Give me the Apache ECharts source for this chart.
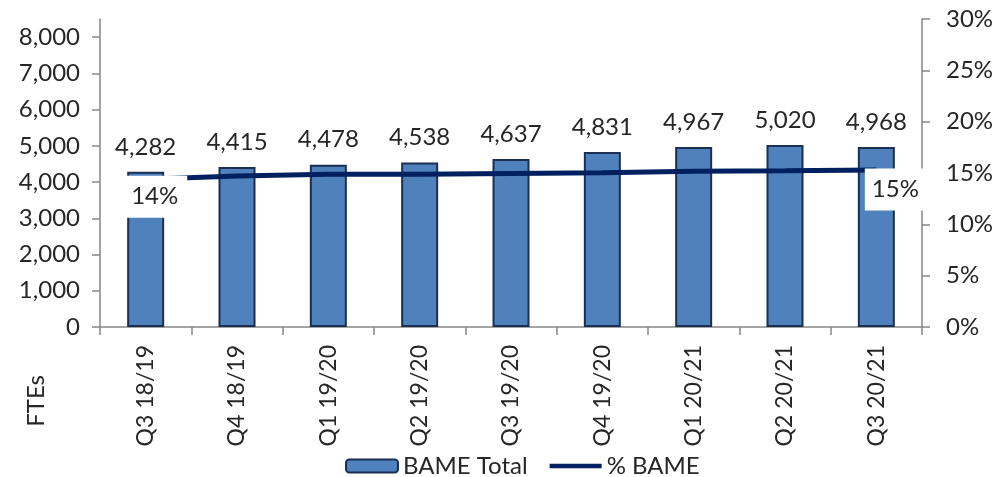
<!DOCTYPE html>
<html>
<head>
<meta charset="utf-8">
<script src="https://cdn.jsdelivr.net/npm/echarts@6/dist/echarts.min.js"></script>
<style>
  html, body { margin: 0; padding: 0; background: #ffffff; }
  #chart { width: 997px; height: 477px; }
</style>
</head>
<body>
<div id="chart"></div>
<script>
// Quarterly BAME headcount (FTEs) and BAME share of the workforce
const categories = ['Q3 18/19', 'Q4 18/19', 'Q1 19/20', 'Q2 19/20', 'Q3 19/20', 'Q4 19/20', 'Q1 20/21', 'Q2 20/21', 'Q3 20/21'];
const bameTotal = [4282, 4415, 4478, 4538, 4637, 4831, 4967, 5020, 4968];
const bamePct = [0.144, 0.147, 0.1488, 0.1487, 0.1495, 0.1503, 0.1517, 0.1522, 0.1529];
const fteTicks = [0, 1000, 2000, 3000, 4000, 5000, 6000, 7000, 8000];
const pctTicks = [0, 0.05, 0.10, 0.15, 0.20, 0.25, 0.30];

const FONT = 'Lato, "Liberation Sans", sans-serif';
const TEXT = '#262626';
const AXIS = '#868686';
const LINE = '#002060';

const fmtThousands = v => Number(v).toLocaleString('en-GB');
const fmtPct = v => Math.round(v * 100) + '%';

// Only the first and last points of the share line carry a label
const pctData = bamePct.map((v, i) => {
  const item = { value: v };
  if (i === 0) {
    item.label = { show: true, position: [-21, -3] };
  } else if (i === bamePct.length - 1) {
    item.label = { show: true, position: [-11, -1], padding: [9, 16, 9, 7] };
  }
  return item;
});

const chart = echarts.init(document.getElementById('chart'), null, { renderer: 'canvas' });
chart.setOption({
  backgroundColor: '#ffffff',
  animation: false,
  textStyle: { fontFamily: FONT },
  grid: { left: 100, right: 75, top: 19, bottom: 150, containLabel: false },
  legend: {
    top: 454,
    left: 345,
    padding: 0,
    itemWidth: 52,
    itemHeight: 13,
    itemGap: 22,
    textStyle: { fontFamily: FONT, fontSize: 24, color: TEXT },
    data: [
      { name: 'BAME Total' },
      { name: '% BAME', icon: 'path://M0,0H56V5H0Z', itemStyle: { color: LINE, opacity: 1 } }
    ]
  },
  xAxis: {
    type: 'category',
    data: categories,
    axisLine: { show: true, lineStyle: { color: AXIS, width: 1.5 } },
    axisTick: { show: true, length: 8, alignWithLabel: false, lineStyle: { color: AXIS, width: 1.5 } },
    axisLabel: { rotate: 90, margin: 18, fontFamily: FONT, fontSize: 23, color: TEXT },
    splitLine: { show: false }
  },
  yAxis: [
    {
      type: 'value',
      min: 0,
      max: 8500,
      position: 'left',
      axisLine: { show: true, lineStyle: { color: AXIS, width: 1.5 } },
      axisTick: { show: true, length: 8, customValues: fteTicks, lineStyle: { color: AXIS, width: 1.5 } },
      axisLabel: { customValues: fteTicks, margin: 20, fontFamily: FONT, fontSize: 24, color: TEXT, formatter: fmtThousands },
      splitLine: { show: false }
    },
    {
      type: 'value',
      min: 0,
      max: 0.3,
      interval: 0.05,
      position: 'right',
      axisLine: { show: true, lineStyle: { color: AXIS, width: 1.5 } },
      axisTick: { show: true, length: 8, lineStyle: { color: AXIS, width: 1.5 } },
      axisLabel: { customValues: pctTicks, margin: 24, fontFamily: FONT, fontSize: 24, color: TEXT, formatter: fmtPct },
      splitLine: { show: false }
    }
  ],
  graphic: [
    {
      type: 'text',
      left: 24,
      top: 375,
      rotation: Math.PI / 2,
      style: { text: 'FTEs', font: '24px ' + FONT, fill: TEXT }
    }
  ],
  series: [
    {
      name: 'BAME Total',
      type: 'bar',
      yAxisIndex: 0,
      data: bameTotal,
      barWidth: 37,
      itemStyle: { color: '#4F81BD', borderColor: '#1B2F52', borderWidth: 2 },
      label: {
        show: true,
        position: 'top',
        distance: 13,
        fontFamily: FONT,
        fontSize: 24,
        color: TEXT,
        formatter: p => fmtThousands(p.value)
      },
      z: 2
    },
    {
      name: '% BAME',
      type: 'line',
      yAxisIndex: 1,
      data: pctData,
      symbol: 'circle',
      symbolSize: 1,
      showSymbol: true,
      itemStyle: { color: LINE },
      lineStyle: { color: LINE, width: 5 },
      label: {
        show: false,
        fontFamily: FONT,
        fontSize: 24,
        color: TEXT,
        backgroundColor: '#ffffff',
        padding: [9, 9, 9, 7],
        align: 'left',
        verticalAlign: 'top',
        formatter: p => fmtPct(p.value)
      },
      z: 3
    }
  ]
});
</script>
</body>
</html>
